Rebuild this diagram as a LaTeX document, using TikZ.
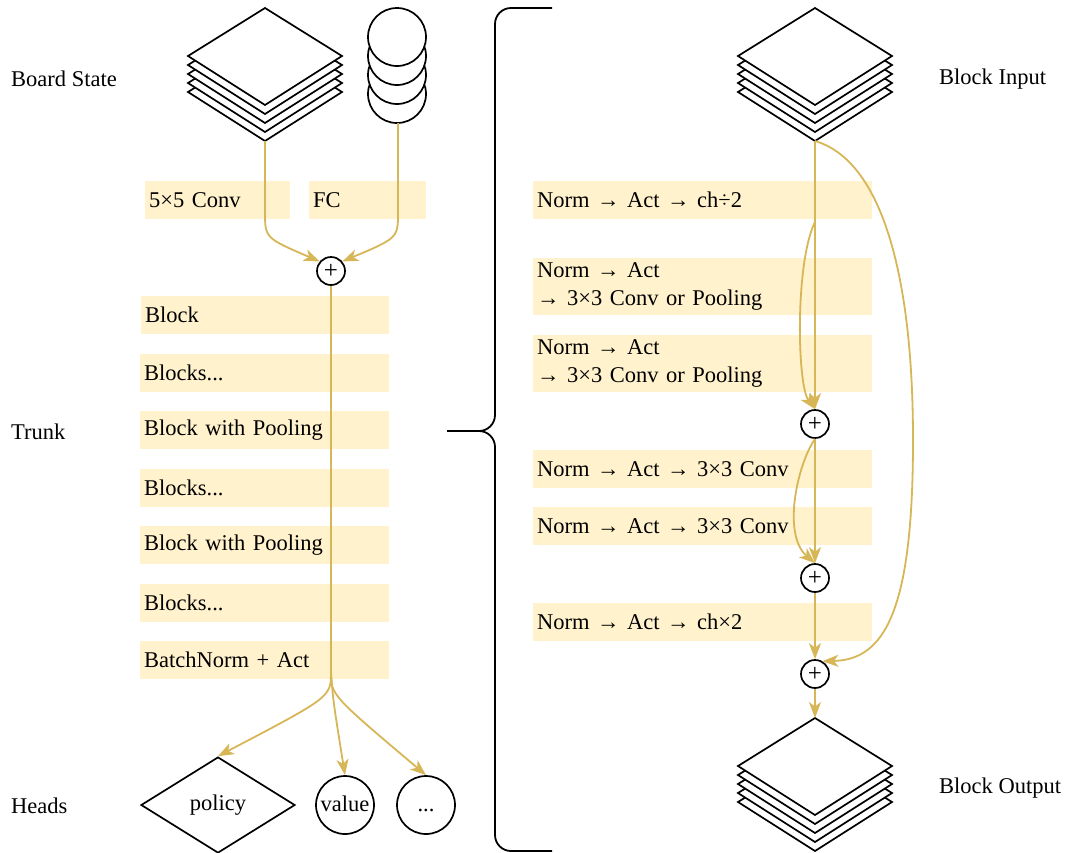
\documentclass[tikz,border=0pt]{standalone}
\usepackage{fontspec}
\setmainfont{Liberation Serif}
\usetikzlibrary{arrows.meta,shapes.geometric}
\definecolor{yfill}{HTML}{FFF2CC}
\definecolor{ystroke}{HTML}{D6B656}
\newcommand\platestack[2]{%
  \foreach \k in {4,3,2,1,0}{%
    \draw[plate] (#1,#2+9*\k) -- (#1+77,#2+48+9*\k) -- (#1,#2+97+9*\k) -- (#1-77,#2+48+9*\k) -- cycle;
  }}
\begin{document}
\begin{tikzpicture}[x=1pt,y=-1pt,
  font=\fontsize{22.5}{28.5}\selectfont,
  plate/.style={draw=black, fill=white, line width=1.7pt, line join=miter},
  box/.style={fill=yfill, anchor=north west, inner xsep=4pt, inner ysep=0pt, align=left},
  lbl/.style={anchor=west, inner sep=0pt},
  plus/.style={circle, draw, fill=white, line width=1.7pt, minimum size=28pt, inner sep=0pt, font=\fontsize{25}{25}\selectfont},
  head/.style={circle, draw, line width=1.7pt, minimum size=58pt, inner sep=0pt, text height=16pt, text depth=4pt},
  yline/.style={draw=ystroke, line width=1.8pt},
  arr/.style={draw=ystroke, line width=1.8pt, arrows={-Stealth[length=16pt,width=12pt,inset=4.5pt]}},
  brace/.style={draw=black, line width=1.8pt, rounded corners=16pt}
]
\useasboundingbox (0,0) rectangle (1070,852);

% ---------- left column ----------
\node[lbl] (lboard) at (11,79) {Board State};
\node[lbl] (ltrunk) at (11,432) {Trunk};
\node[lbl] (lheads) at (11,806) {Heads};

\platestack{265}{8}
\coordinate (bsout) at (265,141);
\foreach \cy in {94,75,56,37} \draw[plate] (397,\cy) circle[radius=29pt];
\coordinate (fcout) at (398,123);

\node[box, text width=137pt, minimum height=38pt] (conv) at (145,181) {5×5 Conv};
\node[box, text width=109pt, minimum height=38pt] (fc) at (309,181) {FC};

\node[box, text width=240pt, minimum height=38pt] (t1) at (141,296) {Block};
\node[box, text width=241pt, minimum height=38pt] (t2) at (140,354) {Blocks...};
\node[box, text width=241pt, minimum height=38pt] (t3) at (140,411) {Block with Pooling};
\node[box, text width=241pt, minimum height=38pt] (t4) at (140,469) {Blocks...};
\node[box, text width=241pt, minimum height=38pt] (t5) at (140,526) {Block with Pooling};
\node[box, text width=241pt, minimum height=38pt] (t6) at (140,584) {Blocks...};
\node[box, text width=241pt, minimum height=38pt] (t7) at (140,641) {BatchNorm + Act};

\node[plus] (pl) at (331,271) {+};
\draw[arr] (bsout) -- (265,212) .. controls (265,238) .. (pl.140);
\draw[arr] (fcout) -- (398,212) .. controls (398,238) .. (pl.40);

\coordinate (split) at (331,672);
\draw[yline] (pl.south) -- (split);

\node[diamond, draw, line width=1.7pt, minimum width=154pt, minimum height=96pt, inner sep=0pt] (policy) at (218,805) {policy};
\node[head] (value) at (345,805) {value};
\node[head] (dots) at (426,805) {...};

\draw[arr] (split) .. controls (331,697) .. (policy.north);
\draw[arr] (split) .. controls (333,700) .. (value.north);
\draw[arr] (split) .. controls (331,695) .. (dots.north);

% ---------- brace ----------
\coordinate (btop) at (552,8);
\coordinate (btip) at (447,431);
\coordinate (bbot) at (552,851);
\draw[brace] (btop) -- (495,8) -- (495,431) -- (btip);
\draw[brace] (btip) -- (495,431) -- (495,851) -- (bbot);

% ---------- right column ----------
\node[lbl] (linp) at (939,79) {Block Input};
\node[lbl] (lout) at (939,788) {Block Output};

\platestack{815}{8}
\coordinate (inp) at (815,141);

\node[box, text width=331pt, minimum height=38pt] (r1) at (533,181) {Norm → Act → ch÷2};
\node[box, text width=331pt, minimum height=57pt] (r2) at (533,258) {Norm → Act\\ → 3×3 Conv or Pooling};
\node[box, text width=331pt, minimum height=57pt] (r3) at (533,335) {Norm → Act\\ → 3×3 Conv or Pooling};
\node[box, text width=331pt, minimum height=38pt] (r4) at (533,450) {Norm → Act → 3×3 Conv};
\node[box, text width=331pt, minimum height=38pt] (r5) at (533,507) {Norm → Act → 3×3 Conv};
\node[box, text width=331pt, minimum height=38pt] (r6) at (533,603) {Norm → Act → ch×2};

\node[plus] (p1) at (815,424) {+};
\node[plus] (p2) at (815,578) {+};
\node[plus] (p3) at (815,674) {+};

\coordinate (rsplit) at (815,222);
\draw[arr] (inp) -- (p1.north);
\draw[arr] (rsplit) .. controls (795,262) and (797,385) .. (p1.north);
\draw[arr] (p1.south) -- (p2.north);
\draw[arr] (p1.south) .. controls (797,465) and (782,535) .. (p2.north);
\draw[arr] (p2.south) -- (p3.north);
\draw[arr] (inp) .. controls (880,160) and (913,270) .. (913,440) .. controls (913,610) and (885,660) .. (p3.60);

\platestack{815}{718}
\coordinate (outtop) at (815,718);
\draw[arr] (p3.south) -- (outtop);
\end{tikzpicture}
\end{document}
